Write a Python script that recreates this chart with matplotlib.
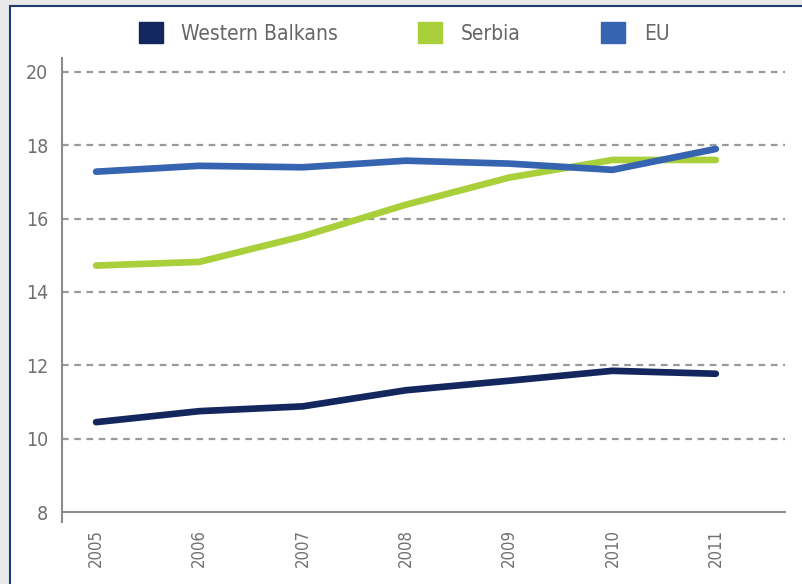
import numpy as np
import matplotlib
matplotlib.use("Agg")
import matplotlib.pyplot as plt
from matplotlib.patches import Rectangle, Patch
from matplotlib.lines import Line2D

plt.rcParams['font.family'] = ['DejaVu Sans']
plt.rcParams['font.stretch'] = 'condensed'

years = [2005, 2006, 2007, 2008, 2009, 2010, 2011]
western_balkans = [10.45, 10.75, 10.88, 11.32, 11.58, 11.85, 11.77]
serbia = [14.72, 14.82, 15.52, 16.38, 17.12, 17.6, 17.6]
eu = [17.28, 17.44, 17.4, 17.58, 17.5, 17.33, 17.9]

labels = ['Western Balkans', 'Serbia', 'EU']
colors = ['#13275e', '#a9cf3b', '#3664b0']

fig = plt.figure(figsize=(8.03, 5.84), dpi=100)
fig.patch.set_facecolor('#e9e9e9')

# white panel with thin navy frame
fig.patches.append(Rectangle((10 / 803, -0.05), 1.0, 1 - 6 / 584 + 0.05,
                             transform=fig.transFigure, facecolor='white',
                             edgecolor='#1f3b73', linewidth=1.5, zorder=-5))

ax = fig.add_axes([62 / 803, 1 - 512 / 584, (785 - 62) / 803, (512 - 58) / 584])
ax.set_facecolor('none')
ax.set_zorder(5)

for vals, col in zip([western_balkans, serbia, eu], colors):
    ax.plot(years, vals, color=col, linewidth=4.8, solid_capstyle='round',
            solid_joinstyle='round', zorder=3)

ax.set_xlim(2004.67, 2011.67)
ax.set_ylim(8, 20.38)
ax.set_yticks(np.arange(8, 21, 2))
ax.set_xticks(years)
ax.set_xticklabels([str(y) for y in years], rotation=90, va='top')

for y in range(10, 21, 2):
    ax.axhline(y, color='#9a9a9a', linewidth=1.6, linestyle=(0, (3, 2.5)), zorder=1)

for s in ['top', 'right']:
    ax.spines[s].set_visible(False)
for s in ['left', 'bottom']:
    ax.spines[s].set_color('#8c8c8c')
    ax.spines[s].set_linewidth(1.5)

# small extension of y axis below the x axis
ax.add_line(Line2D([0, 0], [0, -0.022], transform=ax.transAxes, color='#8c8c8c',
                   linewidth=1.5, clip_on=False))

ax.tick_params(axis='both', length=0, colors='#707070', labelsize=14)
ax.tick_params(axis='y', pad=10)
ax.tick_params(axis='x', pad=12, labelsize=12)

handles = [Patch(facecolor=c, edgecolor=c) for c in colors]
leg = fig.legend(handles, labels, loc='center', bbox_to_anchor=(404 / 803, 1 - 33 / 584),
                 ncol=3, frameon=False, fontsize=15, handlelength=1.15, handleheight=1.15,
                 handletextpad=0.9, columnspacing=3.85, labelcolor='#666666')
leg.set_zorder(6)

fig.savefig('out.png', dpi=100, facecolor=fig.get_facecolor())
